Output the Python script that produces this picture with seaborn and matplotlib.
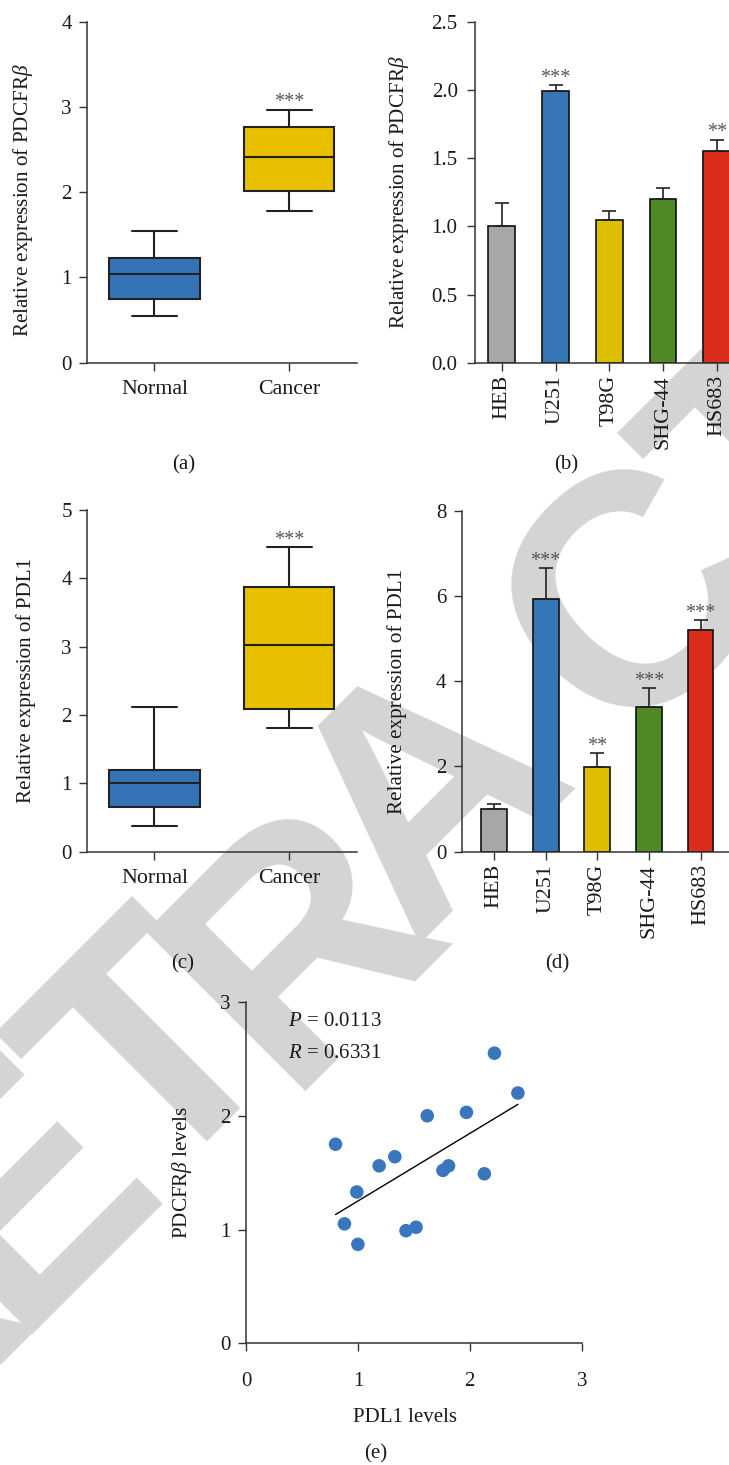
import numpy as np
import pandas as pd
import matplotlib
matplotlib.use("Agg")
import matplotlib.pyplot as plt
import seaborn as sns

# ---------------- data ----------------
box_groups = ["Normal", "Cancer"]
pdgfrb_normal = [0.55, 0.75, 1.04, 1.23, 1.54]   # min, Q1, median, Q3, max
pdgfrb_cancer = [1.78, 2.01, 2.41, 2.76, 2.97]
pdl1_normal = [0.38, 0.65, 1.00, 1.19, 2.12]
pdl1_cancer = [1.81, 2.09, 3.02, 3.87, 4.46]

cell_lines = ["HEB", "U251", "T98G", "SHG-44", "HS683"]
pdgfrb_cells = [1.00, 1.99, 1.045, 1.20, 1.55]
pdgfrb_cells_err = [0.173, 0.046, 0.064, 0.079, 0.086]
pdgfrb_cells_sig = ["", "***", "", "", "**"]
pdl1_cells = [1.00, 5.94, 1.99, 3.40, 5.20]
pdl1_cells_err = [0.126, 0.72, 0.326, 0.45, 0.23]
pdl1_cells_sig = ["", "***", "**", "***", "***"]

pdl1_levels = [0.80, 0.88, 0.99, 1.00, 1.19, 1.33, 1.43, 1.52, 1.62, 1.76, 1.81, 1.97, 2.13, 2.22, 2.43]
pdgfrb_levels = [1.75, 1.05, 1.33, 0.87, 1.56, 1.64, 0.99, 1.02, 2.00, 1.52, 1.56, 2.03, 1.49, 2.55, 2.20]

watermark = "RETRACTED"

# ---------------- style ----------------
sns.set_theme(style="ticks")
plt.rcParams["font.family"] = ["Liberation Serif", "DejaVu Serif"]
plt.rcParams["mathtext.fontset"] = "custom"
plt.rcParams["mathtext.rm"] = "Liberation Serif"
plt.rcParams["mathtext.it"] = "Liberation Serif:italic"
plt.rcParams["mathtext.bf"] = "Liberation Serif:bold"

W, H = 729, 1465
FS = 15
FS_CAT = 15.8
AXC = "#333333"
TXC = "#1a1a1a"
blue_box = "#3573B6"
yellow_box = "#E8C000"
bar_colors = ["#A7A6A9", "#3675B6", "#DDBE00", "#508A27", "#DC2C1B"]
dot_color = "#3A76BE"

fig = plt.figure(figsize=(W / 100, H / 100), dpi=100)

# watermark (behind everything), letters placed along a 45 degree line
wm_centers = [(-129, 1307), (5, 1173), (139, 1039), (285, 924), (412, 777),
              (620, 580), (761, 439), (895, 305), (1029, 171)]
wm_size = 237
half_cap = 0.716 * wm_size * 100 / 72 / 2
for ch, (cx, cy) in zip(watermark, wm_centers):
    ax_ = cx + 0.7071 * half_cap
    ay_ = cy + 0.7071 * half_cap
    fig.text(ax_ / W, 1 - ay_ / H, ch, rotation=45, rotation_mode="anchor",
             fontsize=wm_size, fontweight="bold", family="Liberation Sans",
             color="#D4D4D4", ha="center", va="baseline", zorder=-10)


def px_axes(l, r, t, b):
    ax = fig.add_axes([l / W, 1 - b / H, (r - l) / W, (b - t) / H])
    ax.set_facecolor("none")
    return ax


def style_ax(ax, ypad=5.5, xpad=7, xsize=FS):
    sns.despine(ax=ax)
    for s in ["left", "bottom"]:
        ax.spines[s].set_color(AXC)
        ax.spines[s].set_linewidth(1.1)
    ax.tick_params(axis="both", direction="out", length=5.5, width=1.0,
                   color=AXC, labelsize=FS, labelcolor=TXC)
    ax.tick_params(axis="y", pad=ypad)
    ax.tick_params(axis="x", pad=xpad, labelsize=xsize)
    ax.grid(False)


def boxpanel(ax, normal, cancer, ylim, yticks, ylabel, ylab_xy):
    df = pd.DataFrame({"group": [box_groups[0]] * len(normal) + [box_groups[1]] * len(cancer),
                       "value": list(normal) + list(cancer)})
    sns.boxplot(data=df, x="group", y="value", hue="group", order=box_groups,
                hue_order=box_groups, palette=[blue_box, yellow_box], whis=(0, 100),
                width=0.67, linewidth=1.5, linecolor="#222222", showfliers=False,
                saturation=1, legend=False, ax=ax)
    ax.set_xlim(-0.5, 1.5)
    ax.set_ylim(*ylim)
    ax.set_yticks(yticks)
    ax.set_yticklabels([str(v) for v in yticks])
    ax.set_xlabel("")
    ax.set_ylabel(ylabel, fontsize=15.2, color=TXC)
    ax.yaxis.set_label_coords(*ylab_xy)
    style_ax(ax, ypad=5.5, xpad=7.0, xsize=FS_CAT)
    ax.annotate("***", xy=(1, max(cancer)), xytext=(0, 1.5), textcoords="offset points",
                ha="center", va="baseline", fontsize=14.5, color="#555555")


def barpanel(ax, vals, errs, sigs, xlim, ylim, yticks, fmt, ylabel, ylab_xy, ypad):
    sns.barplot(x=cell_lines, y=vals, hue=cell_lines, palette=bar_colors, width=0.5,
                edgecolor="#111111", linewidth=1.2, errorbar=None, saturation=1,
                legend=False, ax=ax)
    xs = np.arange(len(cell_lines))
    ax.errorbar(xs, vals, yerr=[np.zeros(len(vals)), errs], fmt="none",
                ecolor="#222222", elinewidth=1.2, capsize=4.8, capthick=1.2, zorder=3)
    for x, v, e, s in zip(xs, vals, errs, sigs):
        if s:
            ax.annotate(s, xy=(x, v + e), xytext=(0, 1.5), textcoords="offset points",
                        ha="center", va="baseline", fontsize=14.5, color="#555555")
    ax.set_xlim(*xlim)
    ax.set_ylim(*ylim)
    ax.set_yticks(yticks)
    ax.set_yticklabels([fmt.format(v) for v in yticks])
    ax.set_xticks(xs)
    ax.set_xticklabels(cell_lines, rotation=90)
    ax.set_xlabel("")
    ax.set_ylabel(ylabel, fontsize=15.2, color=TXC)
    ax.yaxis.set_label_coords(*ylab_xy)
    style_ax(ax, ypad=ypad, xpad=3.5, xsize=FS_CAT)


# (a)
ax_a = px_axes(87, 356.7, 21.7, 362.7)
boxpanel(ax_a, pdgfrb_normal, pdgfrb_cancer, (0, 4), [0, 1, 2, 3, 4],
         r"Relative expression of PDCFR$\beta$", (-0.193, 0.477))

# (b)
ax_b = px_axes(475, 743.5, 21.7, 362.7)
barpanel(ax_b, pdgfrb_cells, pdgfrb_cells_err, pdgfrb_cells_sig, (-0.5, 4.5), (0, 2.5),
         [0, 0.5, 1.0, 1.5, 2.0, 2.5], "{:.1f}", r"Relative expression of PDCFR$\beta$",
         (-0.238, 0.5), 7.0)

# (c)
ax_c = px_axes(87, 356.7, 510, 851.7)
boxpanel(ax_c, pdl1_normal, pdl1_cancer, (0, 5), [0, 1, 2, 3, 4, 5],
         "Relative expression of PDL1", (-0.19, 0.5))

# (d)
ax_d = px_axes(461.7, 731.5, 510.7, 851.7)
barpanel(ax_d, pdl1_cells, pdl1_cells_err, pdl1_cells_sig, (-0.625, 4.6), (0, 8),
         [0, 2, 4, 6, 8], "{:d}", "Relative expression of PDL1", (-0.203, 0.471), 5.5)

# (e)
ax_e = px_axes(246, 581.7, 1002, 1343.3)
sns.regplot(x=pdl1_levels, y=pdgfrb_levels, scatter=False, ci=None, truncate=True,
            color="black", line_kws={"linewidth": 1.0}, ax=ax_e)
sns.scatterplot(x=pdl1_levels, y=pdgfrb_levels, s=95, color=dot_color,
                edgecolor="none", zorder=3, ax=ax_e)
ax_e.set_xlim(0, 3)
ax_e.set_ylim(0, 3)
ax_e.set_xticks([0, 1, 2, 3])
ax_e.set_yticks([0, 1, 2, 3])
ax_e.set_xticklabels(["0", "1", "2", "3"])
ax_e.set_yticklabels(["0", "1", "2", "3"])
style_ax(ax_e, ypad=5.5, xpad=15)
ax_e.set_ylabel(r"PDCFR$\beta$ levels", fontsize=15.2, color=TXC)
ax_e.yaxis.set_label_coords(-0.155, 0.5)
ax_e.set_xlabel("PDL1 levels", fontsize=FS, color=TXC)
ax_e.xaxis.set_label_coords(0.474, -0.19)
ax_e.text(0.376, 2.826, r"$P$ = 0.0113", fontsize=FS, color=TXC, ha="left", va="center")
ax_e.text(0.376, 2.545, r"$R$ = 0.6331", fontsize=FS, color=TXC, ha="left", va="center")

# panel letters
for lab, x, y in [("(a)", 184, 465), ("(b)", 566, 465), ("(c)", 183, 964),
                  ("(d)", 557, 964), ("(e)", 376, 1454)]:
    fig.text(x / W, 1 - y / H, lab, ha="center", va="center", fontsize=FS, color=TXC)

fig.savefig("out.png", dpi=100)
